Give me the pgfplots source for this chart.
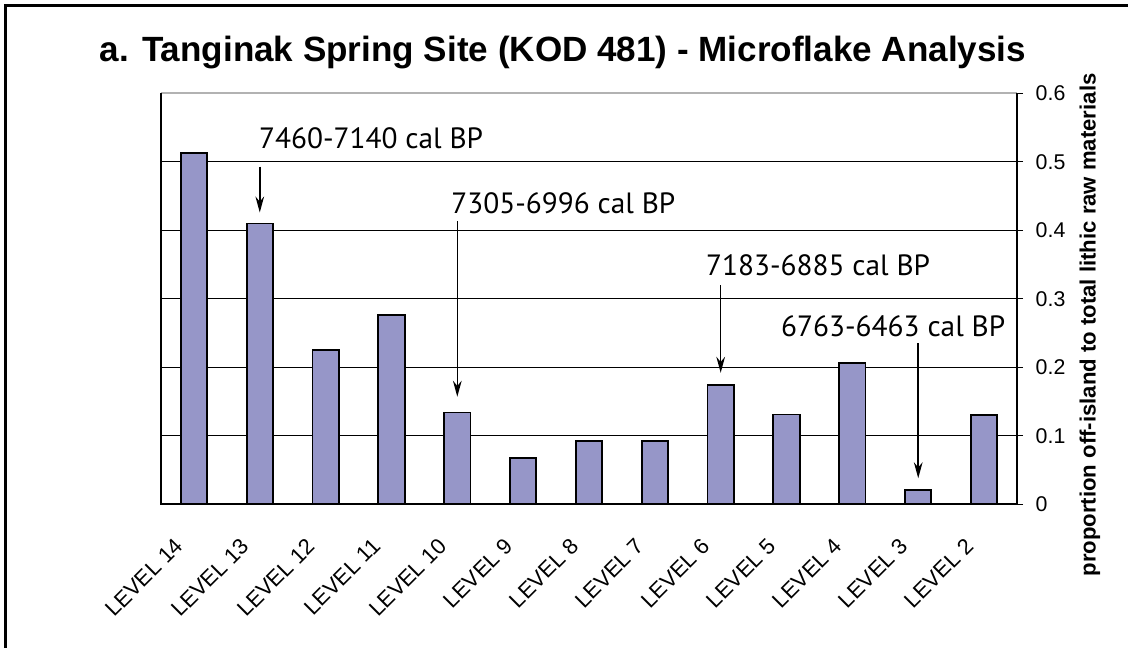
\documentclass[border=0pt]{standalone}
\usepackage{pgfplots}
\pgfplotsset{compat=1.18}
\usepackage{fontspec}
\setmainfont{Liberation Sans}
\newfontfamily\annot{PT Sans}
\usetikzlibrary{arrows.meta}
\definecolor{barc}{RGB}{150,150,200}

\begin{document}
\begin{tikzpicture}
  \begin{axis}[
    scale only axis,
    width=642pt, height=308.25pt,
    xmin=-0.5, xmax=12.5, ymin=0, ymax=0.6,
    enlargelimits=false, clip=false,
    axis line style={draw=none},
    xtick={0,...,12},
    xticklabels={LEVEL 14,LEVEL 13,LEVEL 12,LEVEL 11,LEVEL 10,LEVEL 9,LEVEL 8,LEVEL 7,LEVEL 6,LEVEL 5,LEVEL 4,LEVEL 3,LEVEL 2},
    xtick pos=bottom,
    x tick style={draw=none},
    xticklabel style={font=\fontsize{16.5}{16.5}\selectfont, xshift=-15pt, yshift=-15pt, rotate=45, anchor=north east},
    extra x ticks={-0.5,0.5,...,12.5},
    extra x tick labels={},
    extra x tick style={tick align=outside, major tick length=5pt, tick style={draw=black, line width=0.8pt}, grid=none},
    ytick={0,0.1,...,0.6},
    ytick pos=right, yticklabel pos=right,
    tick align=outside,
    major tick length=4.5pt,
    y tick style={black, line width=0.8pt},
    ymajorgrids,
    grid style={black, line width=0.7pt},
    yticklabel style={font=\fontsize{16}{16}\selectfont, xshift=6pt},
    /pgf/number format/assume math mode=true,
    /pgf/number format/fixed,
    /pgf/number format/precision=1,
  ]
  \addplot[ybar, bar width=0.4, bar shift=0pt, fill=barc, draw=black, line width=1.4pt] coordinates {
    (0,0.513) (1,0.410) (2,0.225) (3,0.276) (4,0.134) (5,0.068) (6,0.092)
    (7,0.092) (8,0.174) (9,0.131) (10,0.206) (11,0.021) (12,0.130)
  };
  % plot area border
  \draw[gray!60, line width=1.2pt] (rel axis cs:0,1) -- (rel axis cs:1,1);
  \draw[black, line width=1.6pt] (rel axis cs:0,1) -- (rel axis cs:0,0) -- (rel axis cs:1,0) -- (rel axis cs:1,1);
  % date annotations
  \node[font=\annot\fontsize{22}{22}\selectfont, anchor=base] at (axis cs:2.69,0.52) {7460-7140 cal BP};
  \node[font=\annot\fontsize{22}{22}\selectfont, anchor=base] at (axis cs:5.61,0.425) {7305-6996 cal BP};
  \node[font=\annot\fontsize{22}{22}\selectfont, anchor=base] at (axis cs:9.48,0.334) {7183-6885 cal BP};
  \node[font=\annot\fontsize{22}{22}\selectfont, anchor=base] at (axis cs:10.62,0.245) {6763-6463 cal BP};
  \draw[line width=1.2pt, -{Stealth[length=12pt,width=6.5pt]}] (axis cs:1,0.493) -- (axis cs:1,0.426);
  \draw[line width=1.2pt, -{Stealth[length=12pt,width=6.5pt]}] (axis cs:4,0.413) -- (axis cs:4,0.157);
  \draw[line width=1.2pt, -{Stealth[length=12pt,width=6.5pt]}] (axis cs:8,0.320) -- (axis cs:8,0.192);
  \draw[line width=1.2pt, -{Stealth[length=12pt,width=6.5pt]}] (axis cs:11,0.235) -- (axis cs:11,0.038);
  \end{axis}
  % everything outside the axis, in reference pixels measured from the axis origin
  \begin{scope}[x=0.75pt, y=0.75pt]
    \draw[line width=1.6pt] (-155.5,-143.7) -- (-155.5,498.8) -- (967,498.8);
    \node[font=\bfseries\fontsize{26.3}{26.3}\selectfont, anchor=base] at (402,442.3) {a. Tanginak Spring Site (KOD 481) - Microflake Analysis};
    \node[rotate=90, font=\bfseries\fontsize{16.6}{16.6}\selectfont] at (929,179.3) {proportion off-island to total lithic raw materials};
    \pgfresetboundingbox
    \path[use as bounding box] (-161,-143.7) rectangle (967,504.3);
  \end{scope}
\end{tikzpicture}
\end{document}
